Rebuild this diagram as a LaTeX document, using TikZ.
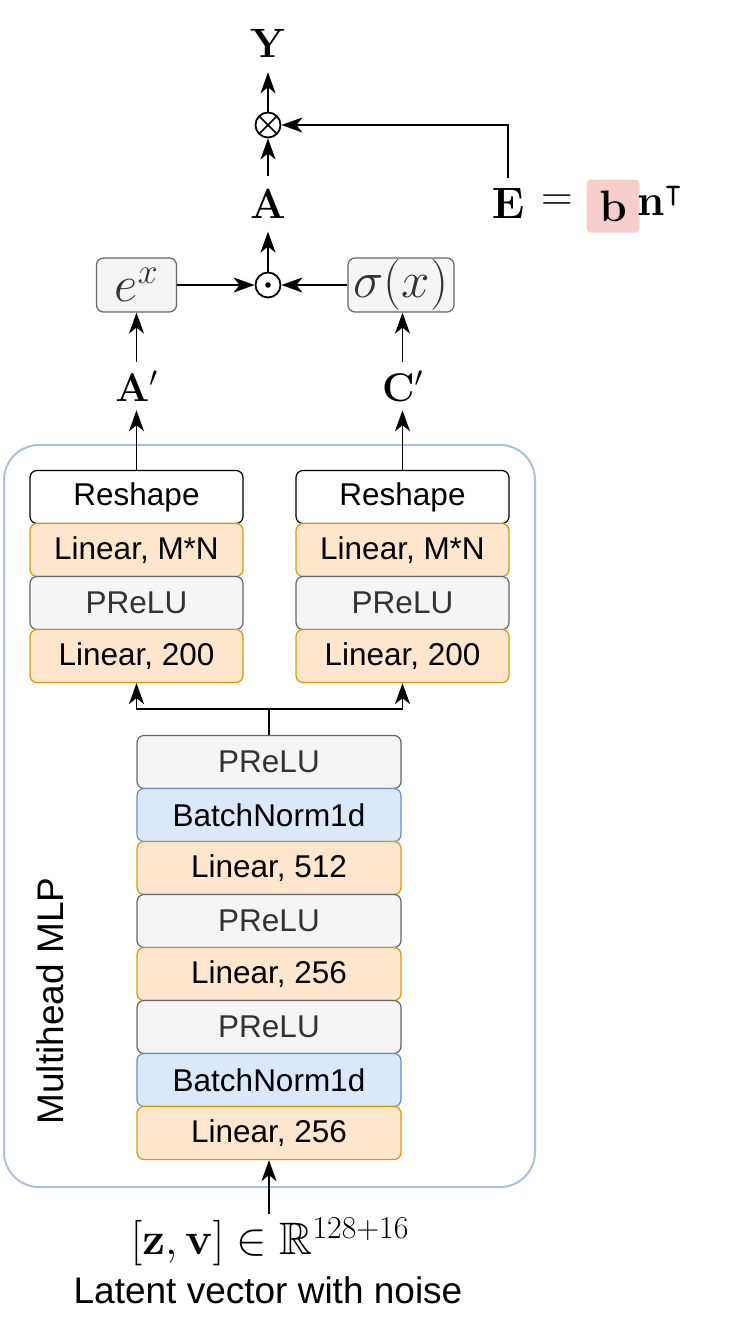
\RequirePackage{fix-cm}
\documentclass[tikz,border=0pt]{standalone}
\usepackage[no-math]{fontspec}
\setmainfont{Liberation Sans}
\usepackage{amsmath,amssymb}
\usetikzlibrary{arrows.meta}
\newcommand{\fsz}[1]{\fontsize{#1}{#1}\selectfont}
\definecolor{orF}{HTML}{FFE6CC}\definecolor{orD}{HTML}{D79B00}
\definecolor{gyF}{HTML}{F5F5F5}\definecolor{gyD}{HTML}{666666}\definecolor{gyT}{HTML}{333333}
\definecolor{blF}{HTML}{DAE8FC}\definecolor{blD}{HTML}{6C8EBF}
\definecolor{contc}{HTML}{A9BFDC}\definecolor{pinkc}{HTML}{F8CECC}
\tikzset{
 layer/.style={draw, rounded corners=7pt, line width=1.2pt, minimum height=53pt, inner sep=0pt, font=\fsz{31.5}},
 side/.style={minimum width=213pt},
 mid/.style={minimum width=264pt},
 lin/.style={layer, fill=orF, draw=orD, text=black},
 act/.style={layer, fill=gyF, draw=gyD, text=gyT},
 bn/.style={layer, fill=blF, draw=blD, text=black},
 rsh/.style={layer, fill=white, draw=black, text=black},
 arr/.style={line width=1.8pt, -{Stealth[length=21pt,width=15pt,inset=6pt]}},
 plain/.style={line width=1.8pt},
 lab/.style={inner sep=13pt, font=\fsz{42}},
 fbox/.style={draw=gyD, fill=gyF, text=gyT, rounded corners=7pt, line width=1.2pt, minimum height=54pt, inner sep=0pt, font=\fsz{51}},
 opc/.style={circle, draw, line width=1.8pt, minimum size=25pt, inner sep=0pt},
}
\begin{document}
\begin{tikzpicture}[x=1pt,y=-1pt]
\useasboundingbox (0,0) rectangle (731,1335);
% container
\node[draw=contc, line width=2pt, rounded corners=35pt, minimum width=531pt, minimum height=742pt, inner sep=0pt] (cont) at (269.5,816) {};
\node[rotate=90, font=\fsz{37}] (mlp) at (50,1001) {Multihead MLP};
% center column
\node[act, mid] (p1) at (269,762) {PReLU};
\node[bn, mid] (b1) at (269,815) {BatchNorm1d};
\node[lin, mid] (l512) at (269,868) {Linear, 512};
\node[act, mid] (p2) at (269,921) {PReLU};
\node[lin, mid] (l256a) at (269,974) {Linear, 256};
\node[act, mid] (p3) at (269,1027) {PReLU};
\node[bn, mid] (b2) at (269,1080) {BatchNorm1d};
\node[lin, mid] (l256b) at (269,1133) {Linear, 256};
% left column
\node[rsh, side] (rL) at (136.5,497) {Reshape};
\node[lin, side] (mnL) at (136.5,550) {Linear, M*N};
\node[act, side] (prL) at (136.5,603) {PReLU};
\node[lin, side] (l2L) at (136.5,656) {Linear, 200};
% right column
\node[rsh, side] (rR) at (402.5,497) {Reshape};
\node[lin, side] (mnR) at (402.5,550) {Linear, M*N};
\node[act, side] (prR) at (402.5,603) {PReLU};
\node[lin, side] (l2R) at (402.5,656) {Linear, 200};
% branch
\coordinate (br) at (269,709);
\draw[plain] (p1.north) -- (br);
\draw[arr] (br) -| (l2L.south);
\draw[arr] (br) -| (l2R.south);
% input
\coordinate (inp) at (269,1214);
\draw[arr] (inp) -- (l256b.south);
\node[font=\fsz{45.5}] (inm) at (270,1242) {$[\mathbf{z},\mathbf{v}]\in\mathbb{R}^{128+16}$};
\node[font=\fsz{37}] (lat) at (268,1290) {Latent vector with noise};
% top
\node[lab, inner sep=9pt, font=\fsz{40}] (Ap) at (136.5,386) {$\mathbf{A}'$};
\node[lab, inner sep=9pt, font=\fsz{40}] (Cp) at (402.5,386) {$\mathbf{C}'$};
\node[fbox, minimum width=80pt] (ex) at (136.5,285) {$e^{x}$};
\node[fbox, minimum width=106pt] (sg) at (401,285) {$\sigma(x)$};
\node[opc, path picture={\fill (path picture bounding box.center) circle (2.8pt);}] (od) at (268,285) {};
\node[lab] (A) at (268,204) {$\mathbf{A}$};
\node[opc, path picture={\draw[line width=1.6pt] (path picture bounding box.north west)--(path picture bounding box.south east) (path picture bounding box.north east)--(path picture bounding box.south west);}] (ot) at (268,125) {};
\node[lab, inner sep=15pt, font=\fsz{41}] (Y) at (268,43) {$\mathbf{Y}$};
\node[lab, inner sep=10pt, font=\fsz{44}] (E) at (508,203) {$\mathbf{E}$};
\node[font=\fsz{44}, inner sep=0pt] (eq) at (557,203) {$=$};
\node[fill=pinkc, rounded corners=4pt, minimum width=53pt, minimum height=53pt, inner sep=0pt, font=\fsz{44}] (bb) at (613,206) {$\mathbf{b}$};
\node[font=\fsz{44}, inner sep=0pt, anchor=west] (nt) at (637,201) {$\mathbf{n}^{\intercal}$};
\draw[arr] (rL.north) -- (rL.north |- Ap.south);
\draw[arr] (rR.north) -- (rR.north |- Cp.south);
\draw[arr] (Ap.north) -- (Ap.north |- ex.south);
\draw[arr] (Cp.north) -- (Cp.north |- sg.south);
\draw[arr] (ex) -- (od);
\draw[arr] (sg) -- (od);
\draw[arr] (od) -- (A);
\draw[arr] (A) -- (ot);
\draw[arr] (ot) -- (Y);
\draw[arr] (E.north) |- (ot);
\end{tikzpicture}
\end{document}
